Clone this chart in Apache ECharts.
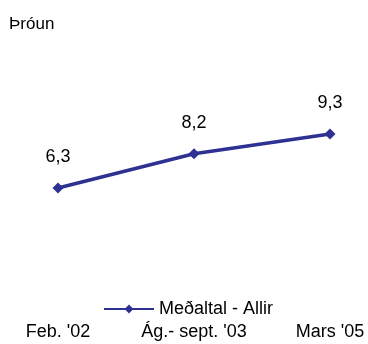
<!DOCTYPE html>
<html>
<head>
<meta charset="utf-8">
<script src="https://cdn.jsdelivr.net/npm/echarts@6/dist/echarts.min.js"></script>
<style>
  html, body { margin: 0; padding: 0; background: #fff; }
  #chart { width: 368px; height: 344px; }
</style>
</head>
<body>
<div id="chart"></div>
<script>
const categories = ["Feb. '02", "Ág.- sept. '03", "Mars '05"];
const values = [6.3, 8.2, 9.3];
const seriesName = "Meðaltal - Allir";
const titleText = "Þróun";

const lineColor = "#2e3192";
const font = "Liberation Sans, Arial, sans-serif";

const myChart = echarts.init(document.getElementById("chart"));
myChart.setOption({
  animation: false,
  title: {
    text: titleText,
    left: 4,
    top: 11,
    textStyle: { fontFamily: font, fontSize: 17, fontWeight: "normal", color: "#000" }
  },
  legend: {
    data: [seriesName],
    left: 98,
    top: 295,
    itemWidth: 50,
    itemHeight: 11,
    itemGap: 4,
    textStyle: { fontFamily: font, fontSize: 18, color: "#000" }
  },
  grid: {
    left: 58,
    right: 38,
    top: 31.4,
    bottom: 42.6,
    containLabel: false
  },
  xAxis: {
    type: "category",
    boundaryGap: false,
    data: categories,
    axisLine: { show: false },
    axisTick: { show: false },
    axisLabel: {
      margin: 22,
      fontFamily: font,
      fontSize: 18,
      color: "#000",
      interval: 0
    }
  },
  yAxis: {
    type: "value",
    min: 0,
    max: 15,
    show: false,
    splitLine: { show: false }
  },
  series: [
    {
      name: seriesName,
      type: "line",
      data: values,
      symbol: "diamond",
      symbolSize: 11,
      itemStyle: { color: lineColor },
      lineStyle: { color: lineColor, width: 3.5 },
      label: {
        show: true,
        position: "top",
        distance: 16,
        fontFamily: font,
        fontSize: 18,
        color: "#000",
        formatter: p => String(p.value).replace(".", ",")
      }
    }
  ]
});
</script>
</body>
</html>
